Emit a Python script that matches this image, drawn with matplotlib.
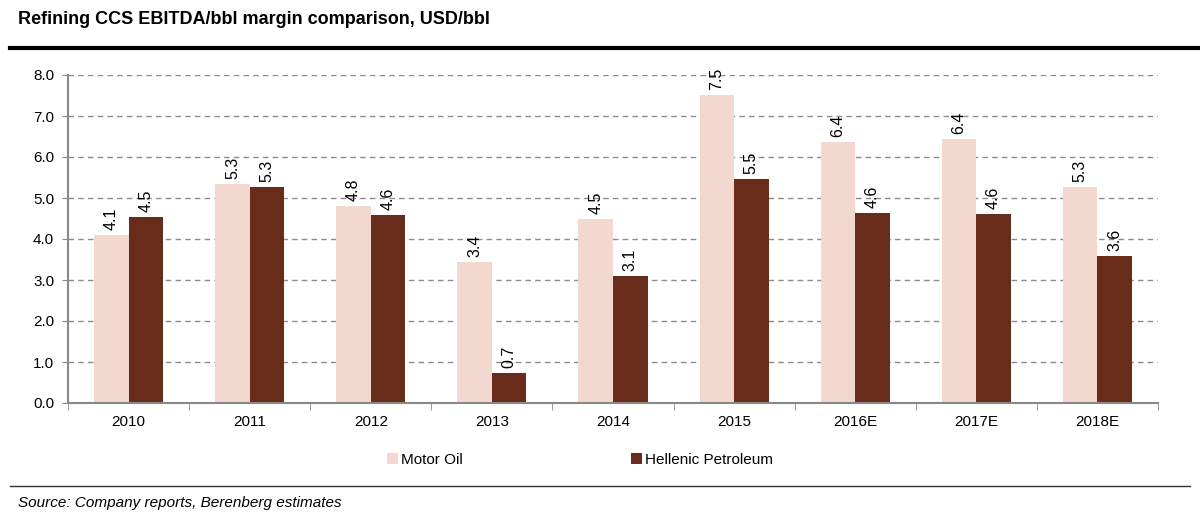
import numpy as np
import matplotlib.pyplot as plt
from matplotlib.lines import Line2D

plt.rcParams['font.family'] = ['Liberation Sans', 'DejaVu Sans']

years = ['2010', '2011', '2012', '2013', '2014', '2015', '2016E', '2017E', '2018E']
motor_oil = [4.10, 5.34, 4.80, 3.44, 4.49, 7.51, 6.37, 6.44, 5.27]
hellenic = [4.54, 5.26, 4.58, 0.73, 3.10, 5.46, 4.63, 4.61, 3.59]

light = '#F2D8CE'
dark = '#692C1A'

fig = plt.figure(figsize=(12, 5.15), dpi=100)
ax = fig.add_axes([68 / 1200, 1 - 403 / 515, (1158 - 68) / 1200, (403 - 75) / 515])

x = np.arange(len(years))
w = 0.285
b1 = ax.bar(x - w / 2, motor_oil, w, color=light, label='Motor Oil', zorder=2)
b2 = ax.bar(x + w / 2, hellenic, w, color=dark, label='Hellenic Petroleum', zorder=2)

for bars, vals in [(b1, motor_oil), (b2, hellenic)]:
    for r, v in zip(bars, vals):
        ax.text(r.get_x() + r.get_width() / 2, v + 0.12, f'{v:.1f}', rotation=90,
                ha='center', va='bottom', fontsize=11.5)

ax.set_xlim(-0.5, len(years) - 0.5)
ax.set_ylim(0, 8)
ax.set_yticks(np.arange(0, 8.1, 1))
ax.set_yticklabels([f'{t:.1f}' for t in np.arange(0, 8.1, 1)], fontsize=11)
ax.set_xticks(x)
ax.set_xticklabels(years, fontsize=11)
ax.tick_params(axis='x', length=0, pad=9)
ax.set_xticks(np.arange(-0.5, len(years)), minor=True)
ax.tick_params(axis='x', which='minor', length=5, color='#888888', direction='out')
ax.tick_params(axis='y', length=4, color='#888888', pad=6)

ax.grid(axis='y', linestyle=(0, (4, 3)), color='#8c8c8c', linewidth=1, zorder=0)
for s in ['top', 'right']:
    ax.spines[s].set_visible(False)
for s in ['left', 'bottom']:
    ax.spines[s].set_color('#888888')
    ax.spines[s].set_linewidth(1.5)

fig.legend(handles=[b1, b2], loc='center', bbox_to_anchor=(580 / 1200, 1 - 460 / 515),
           ncol=2, frameon=False, fontsize=11, handlelength=0.7, handleheight=0.7,
           handletextpad=0.2, columnspacing=11)

fig.text(18 / 1200, 1 - 20 / 515, 'Refining CCS EBITDA/bbl margin comparison, USD/bbl',
         fontsize=13, fontweight='bold', va='center', ha='left')
fig.add_artist(Line2D([10 / 1200, 1], [1 - 48 / 515] * 2, color='black', linewidth=3))
fig.add_artist(Line2D([10 / 1200, 1190 / 1200], [1 - 486 / 515] * 2, color='#333333', linewidth=1))
fig.text(18 / 1200, 1 - 503 / 515, 'Source: Company reports, Berenberg estimates',
         fontsize=11, style='italic', va='center', ha='left')

fig.savefig('out.png', dpi=100)
